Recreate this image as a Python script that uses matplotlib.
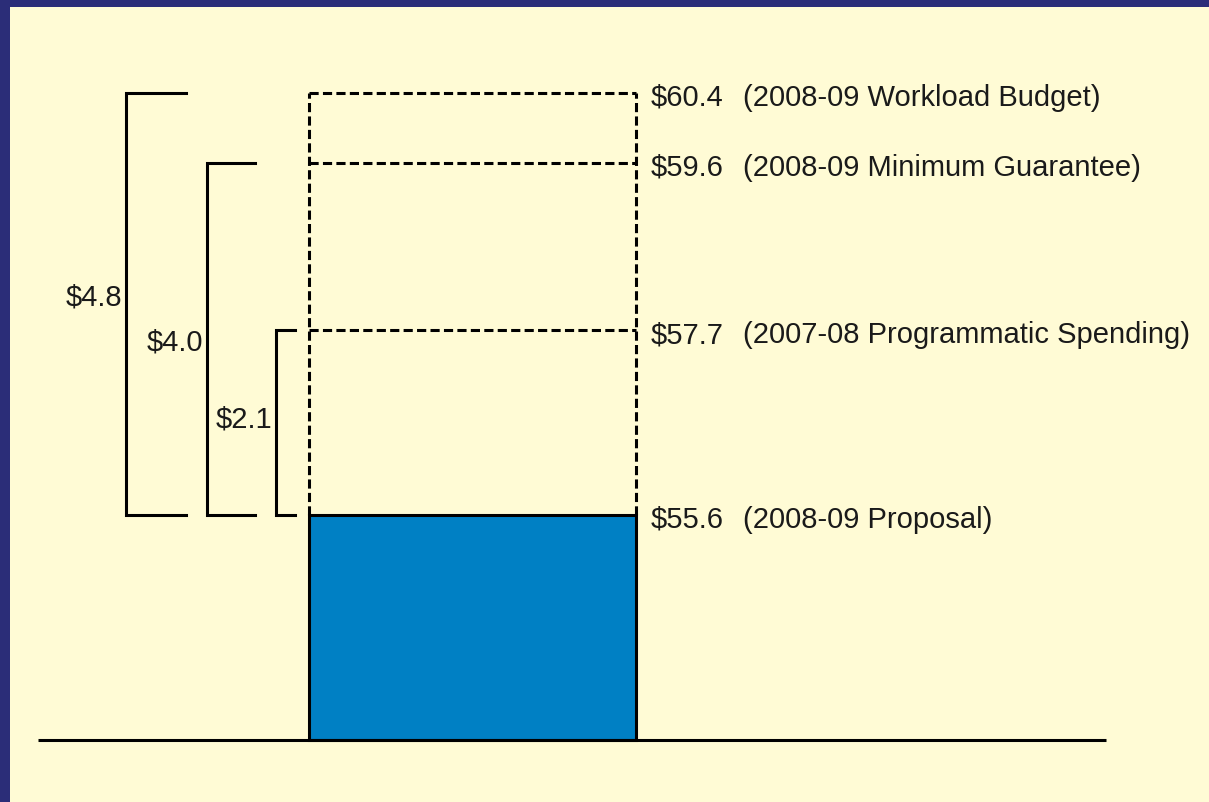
import matplotlib.pyplot as plt

# values in billions of dollars
levels = [60.4, 59.6, 57.7, 55.6]
values_txt = ['$60.4', '$59.6', '$57.7', '$55.6']
descriptions = ['(2008-09 Workload Budget)', '(2008-09 Minimum Guarantee)',
                '(2007-08 Programmatic Spending)', '(2008-09 Proposal)']
proposal = 55.6
gaps = [4.8, 4.0, 2.1]
gap_labels = ['$4.8', '$4.0', '$2.1']

# figure layout (x in pixel units, y in data units)
W, H = 1209, 802
px_per_unit = 88.0
y_ref_px = 515
base = proposal - (740 - y_ref_px) / px_per_unit
y_top = proposal + y_ref_px / px_per_unit
y_bot = proposal - (H - y_ref_px) / px_per_unit
text_shift = 5 / px_per_unit

bg = '#fffbd5'
navy = '#2b2d78'
blue = '#0080c4'
txt = '#1a1a1a'
fs = 21

fig = plt.figure(figsize=(W / 100, H / 100), dpi=100, facecolor=navy)
ax = fig.add_axes([10 / W, 0, 1 - 10 / W, 1 - 7 / H])
ax.set_facecolor(bg)
ax.set_xlim(10, W)
ax.set_ylim(y_bot, y_top - 7 / px_per_unit)
ax.axis('off')
ax.add_patch(plt.Rectangle((10, y_bot), W, y_top - y_bot, color=bg, zorder=0))

x0, x1 = 309, 636
lw = 2.2

# the proposal bar
ax.bar((x0 + x1) / 2, proposal - base, width=x1 - x0, bottom=base,
       color=blue, edgecolor='black', linewidth=lw, zorder=3)

# dashed outline for the higher levels
dash = (0, (3.0, 1.4))
ax.plot([x0, x0], [proposal, levels[0]], color='black', lw=lw, ls=dash)
ax.plot([x1, x1], [proposal, levels[0]], color='black', lw=lw, ls=dash)
for lv in levels[:3]:
    ax.plot([x0, x1], [lv, lv], color='black', lw=lw, ls=dash)

# baseline
ax.plot([38, 1106], [base, base], color='black', lw=lw, solid_capstyle='butt', zorder=4)

# labels on the right
for lv, v, d in zip(levels, values_txt, descriptions):
    ax.text(651, lv - text_shift, v, fontsize=fs, family='Liberation Sans',
            va='center', ha='left', color=txt)
    ax.text(743, lv - text_shift, d, fontsize=fs, family='Liberation Sans',
            va='center', ha='left', color=txt)

# brackets showing the gaps
bracket_x = [126, 207, 276]
bracket_end = [186, 255, 295]
label_y = [298, 343, 420]
for g, lab, bx, be, ly in zip(gaps, gap_labels, bracket_x, bracket_end, label_y):
    top = proposal + g
    ax.plot([be, bx, bx, be], [top, top, proposal, proposal],
            color='black', lw=lw, solid_joinstyle='miter')
    ax.text(bx - 4, proposal - (ly - y_ref_px) / px_per_unit, lab, fontsize=fs,
            family='Liberation Sans', ha='right', va='center', color=txt)

fig.savefig('out.png', dpi=100, facecolor=navy)
